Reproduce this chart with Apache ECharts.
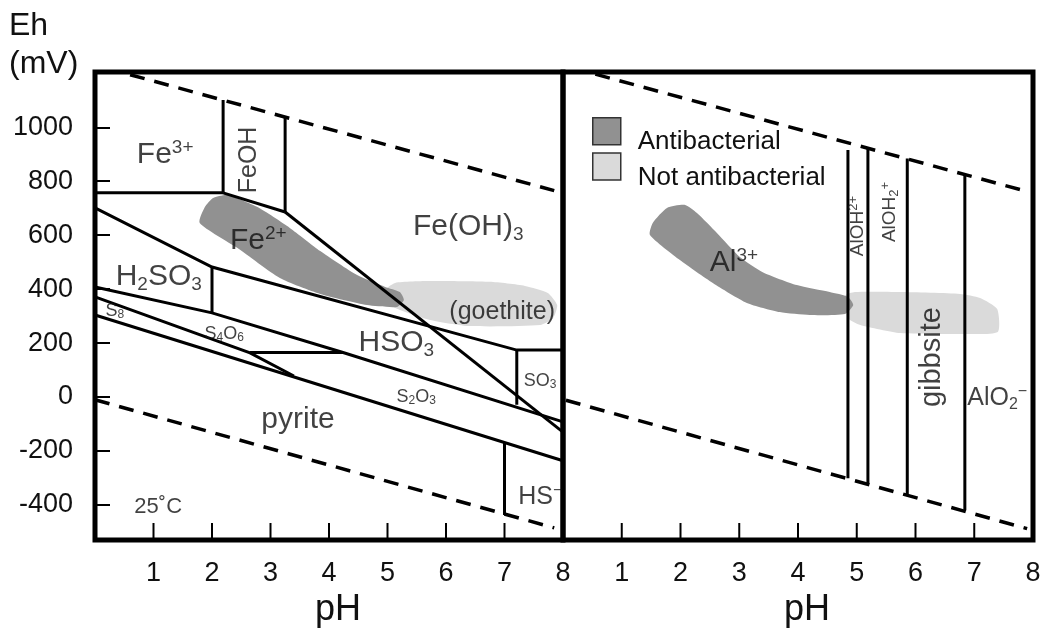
<!DOCTYPE html>
<html>
<head>
<meta charset="utf-8">
<script src="https://cdn.jsdelivr.net/npm/echarts@6/dist/echarts.min.js"></script>
<style>
  html, body { margin: 0; padding: 0; background: #fff; }
  #chart-container { width: 1049px; height: 633px; }
</style>
</head>
<body>
<div id="chart-container"></div>
<script>
// y axis labels (Eh, mV) and the pH range of both panels
var ehTicks = [-400, -200, 0, 200, 400, 600, 800, 1000];
var phTicks = [1, 2, 3, 4, 5, 6, 7];
var phLabels = [1, 2, 3, 4, 5, 6, 7, 8];
var ehRange = [-530, 1205];
var phRange = [0, 8];

// water stability limits (dashed), [pH, Eh]
var waterUpperFe = [[0.6, 1195], [7.85, 765]];
var waterLowerFe = [[0, -10], [7.85, -485]];
var waterUpperAl = [[0.55, 1197], [7.85, 765]];
var waterLowerAl = [[0.05, -12], [7.9, -488]];

// Fe-S field boundaries (left panel)
var feBoundaries = [
  [[0, 757], [2.19, 757]],
  [[2.19, 757], [2.19, 1101]],
  [[2.19, 757], [3.25, 686]],
  [[3.25, 686], [3.25, 1038]],
  [[3.25, 686], [8, -130]],
  [[0, 701], [2.0, 482], [7.21, 174], [8, 174]],
  [[2.0, 482], [2.0, 312]],
  [[0, 408], [2.0, 312], [4.24, 165], [8, -92]],
  [[7.21, 174], [7.21, -29]],
  [[2.65, 165], [4.24, 165]],
  [[0, 371], [2.65, 164], [3.4, 78]],
  [[0, 304], [8, -236]],
  [[7.0, -170], [7.0, -437]]
];

// Al field boundaries (right panel)
var alBoundaries = [
  [[4.85, 916], [4.85, -301]],
  [[5.19, 924], [5.19, -321]],
  [[5.86, 884], [5.86, -362]],
  [[6.84, 826], [6.84, -420]]
];

// measured pH/Eh ranges
var feAntibacterial = [[1.79, 645], [1.88, 705], [2.02, 738], [2.26, 749], [2.77, 705], [3.33, 627],
  [3.85, 541], [4.48, 452], [4.96, 408], [5.21, 389], [5.28, 360], [5.16, 334], [4.65, 341],
  [3.85, 382], [3.16, 441], [2.43, 553]];
var feNotAntibacterial = [[4.92, 389], [5.13, 423], [5.73, 430], [6.75, 427], [7.35, 412], [7.74, 386],
  [7.9, 341], [7.83, 293], [7.61, 267], [6.41, 263], [5.73, 286], [5.21, 323], [4.96, 352]];
var alAntibacterial = [[1.48, 601], [1.53, 646], [1.77, 701], [2.08, 712], [2.28, 682], [2.62, 608],
  [3.01, 519], [3.4, 463], [3.98, 415], [4.54, 389], [4.85, 371], [4.94, 341], [4.8, 308],
  [4.2, 304], [3.69, 315], [3.13, 349], [2.55, 423], [1.99, 508]];
var alNotAntibacterial = [[4.8, 375], [4.97, 389], [5.74, 389], [6.76, 382], [7.1, 367], [7.39, 326],
  [7.4, 241], [6.76, 234], [5.74, 237], [5.06, 267], [4.85, 293]];

// field names: [text, pH, Eh]
var feLabels = [
  ['{a|Fe}{ap|3+}', 1.2, 897],
  ['{a|Fe}{ap|2+}', 2.79, 578],
  ['{a|Fe(OH)}{ab|3}', 6.38, 630],
  ['{a|H}{ab|2}{a|SO}{ab|3}', 1.09, 445],
  ['{a|HSO}{ab|3}', 5.15, 200],
  ['{a|pyrite}', 3.47, -85],
  ['{m|(goethite)}', 6.96, 315],
  ['{m|HS}{mp|−}', 7.61, -370],
  ['{c|25˚C}', 1.08, -408],
  ['{s|S}{sb|8}', 0.34, 319],
  ['{s|S}{sb|4}{s|O}{sb|6}', 2.21, 234],
  ['{s|SO}{sb|3}', 7.61, 60],
  ['{s|S}{sb|2}{s|O}{sb|3}', 5.49, 0]
];
var feLabelsV = [['{m|FeOH}', 2.63, 879]];
var alLabels = [
  ['{a|Al}{ap|3+}', 2.91, 497],
  ['{m|AlO}{mb|2}{mp|−}', 7.39, -3]
];
var alLabelsV = [
  ['{t|AlOH}{tp|2+}', 5.02, 634],
  ['{t|AlOH}{tb|2}{tp|+}', 5.57, 686],
  ['{g|gibbsite}', 6.28, 148]
];

var FONT = '"Liberation Sans", Arial, sans-serif';
var INK = '#111';
var DARK = '#919191';
var LIGHT = '#dadada';

function txt(size, lh, va) {
  var s = { fontSize: size, lineHeight: lh, color: INK, fontFamily: FONT };
  if (va) s.verticalAlign = va;
  return s;
}

var rich = {
  a: txt(30, 34),
  ap: txt(19, 19, 'top'),
  ab: txt(19, 17, 'bottom'),
  g: txt(29, 32),
  m: txt(25, 29),
  mp: txt(16, 16, 'top'),
  mb: txt(16, 14, 'bottom'),
  c: txt(22, 26),
  s: txt(18, 20),
  sb: txt(12, 10, 'bottom'),
  t: txt(19, 22),
  tp: txt(13, 13, 'top'),
  tb: txt(13, 11, 'bottom')
};

function lineSeries(data, grid, dashed) {
  return {
    type: 'line',
    xAxisIndex: grid,
    yAxisIndex: grid,
    data: data,
    symbol: 'none',
    silent: true,
    z: 3,
    lineStyle: dashed
      ? { color: '#000', width: 3.5, type: [15, 10] }
      : { color: '#000', width: 3, join: 'miter' }
  };
}

function bandSeries(name, poly, grid, color) {
  return {
    type: 'custom',
    name: name,
    xAxisIndex: grid,
    yAxisIndex: grid,
    silent: true,
    z: name === 'Antibacterial' ? 2 : 1,
    itemStyle: { color: color },
    data: [poly[0]],
    renderItem: function (params, api) {
      var pts = poly.map(function (p) { return api.coord(p); });
      return {
        type: 'polygon',
        shape: { points: pts, smooth: 0.2 },
        style: { fill: color }
      };
    }
  };
}

function labelSeries(labels, grid, rotate) {
  return {
    type: 'scatter',
    xAxisIndex: grid,
    yAxisIndex: grid,
    symbolSize: 0,
    silent: true,
    z: 5,
    data: labels.map(function (l) { return [l[1], l[2], l[0]]; }),
    label: {
      show: true,
      position: 'inside',
      rotate: rotate,
      color: INK,
      textBorderWidth: 0,
      formatter: function (p) { return p.data[2]; },
      rich: rich
    }
  };
}

var series = [];
series.push(bandSeries('Not antibacterial', feNotAntibacterial, 0, LIGHT));
series.push(bandSeries('Antibacterial', feAntibacterial, 0, DARK));
series.push(bandSeries('Not antibacterial', alNotAntibacterial, 1, LIGHT));
series.push(bandSeries('Antibacterial', alAntibacterial, 1, DARK));
series.push(lineSeries(waterUpperFe, 0, true));
series.push(lineSeries(waterLowerFe, 0, true));
series.push(lineSeries(waterUpperAl, 1, true));
series.push(lineSeries(waterLowerAl, 1, true));
feBoundaries.forEach(function (b) { series.push(lineSeries(b, 0, false)); });
alBoundaries.forEach(function (b) { series.push(lineSeries(b, 1, false)); });
series.push(labelSeries(feLabels, 0, 0));
series.push(labelSeries(feLabelsV, 0, 90));
series.push(labelSeries(alLabels, 1, 0));
series.push(labelSeries(alLabelsV, 1, 90));

function xAxis(grid) {
  return {
    type: 'value',
    gridIndex: grid,
    position: 'bottom',
    min: phRange[0],
    max: phRange[1],
    name: 'pH',
    nameLocation: 'middle',
    nameGap: 48,
    nameTextStyle: { fontSize: 36, color: INK, fontFamily: FONT, padding: [0, 0, 0, 18] },
    axisLine: { show: false, onZero: false },
    axisTick: { show: false },
    axisLabel: {
      customValues: phLabels, fontSize: 27, color: INK, margin: 20, fontFamily: FONT,
      formatter: function (v) { return String(v); }
    },
    splitLine: { show: false }
  };
}

var option = {
  animation: false,
  textStyle: { fontFamily: FONT },
  title: {
    text: 'Eh\n(mV)',
    left: 4,
    top: 2,
    textStyle: { fontSize: 32, fontWeight: 'normal', color: INK, lineHeight: 38, fontFamily: FONT }
  },
  legend: {
    data: ['Antibacterial', 'Not antibacterial'],
    orient: 'vertical',
    left: 592,
    top: 117,
    padding: 0,
    itemWidth: 28,
    itemHeight: 27,
    itemGap: -3,
    icon: 'rect',
    selectedMode: false,
    itemStyle: { borderColor: '#333', borderWidth: 1.5 },
    formatter: '{t|{name}}',
    textStyle: {
      rich: { t: { fontSize: 26, color: INK, fontFamily: FONT, padding: [22, 0, 0, 12] } }
    }
  },
  grid: [
    { left: 95, top: 72, width: 468, height: 468, show: true, borderColor: '#000', borderWidth: 5 },
    { left: 563, top: 72, width: 470, height: 468, show: true, borderColor: '#000', borderWidth: 5 }
  ],
  xAxis: [xAxis(0), xAxis(1)],
  yAxis: [
    {
      type: 'value',
      gridIndex: 0,
      min: ehRange[0],
      max: ehRange[1],
      axisLine: { show: false, onZero: false },
      axisTick: { inside: true, length: 15, customValues: ehTicks, lineStyle: { color: '#000', width: 2 } },
      axisLabel: {
        customValues: ehTicks, fontSize: 27, color: INK, margin: 22, fontFamily: FONT,
        formatter: function (v) { return String(v); }
      },
      splitLine: { show: false }
    },
    {
      type: 'value',
      gridIndex: 1,
      min: ehRange[0],
      max: ehRange[1],
      axisLine: { show: false, onZero: false },
      axisTick: { show: false },
      axisLabel: { show: false },
      splitLine: { show: false }
    }
  ],
  series: series
};

var myChart = echarts.init(document.getElementById('chart-container'));
myChart.setOption(option);

// pH ticks standing up from the bottom frame, placed through each grid's scale,
// on their own layer above the chart
var tickMarks = [];
[0, 1].forEach(function (g) {
  phTicks.forEach(function (v) {
    var p = myChart.convertToPixel({ gridIndex: g }, [v, ehRange[0]]);
    tickMarks.push({
      type: 'rect',
      zlevel: 1,
      z: 100,
      silent: true,
      shape: { x: p[0] - 1, y: p[1] - 17, width: 2, height: 16 },
      style: { fill: '#000' }
    });
  });
});
myChart.setOption({ graphic: { elements: tickMarks } });
</script>
</body>
</html>
